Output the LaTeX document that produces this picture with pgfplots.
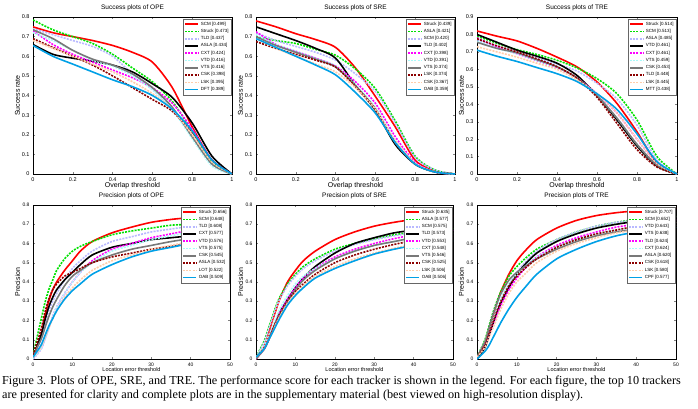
\documentclass[border=0pt]{standalone}
\usepackage{pgfplots}
\pgfplotsset{compat=1.18}
\usepackage{pgfplotstable}
\usepackage{fontspec}
\setmainfont{Liberation Sans}
\newfontfamily\capfont{Liberation Serif}

\definecolor{c1}{RGB}{255,0,0}
\definecolor{c2}{RGB}{0,225,0}
\definecolor{c3}{RGB}{185,185,255}
\definecolor{c4}{RGB}{0,0,0}
\definecolor{c5}{RGB}{255,0,255}
\definecolor{c6}{RGB}{170,250,250}
\definecolor{c7}{RGB}{120,120,120}
\definecolor{c8}{RGB}{140,0,0}
\definecolor{c9}{RGB}{255,205,170}
\definecolor{c10}{RGB}{0,160,230}

\pgfplotscreateplotcyclelist{trk}{
{c1,solid},
{c2,dash pattern=on 2pt off 1.2pt},
{c3,dash pattern=on 2pt off 1.2pt},
{c4,solid},
{c5,dash pattern=on 2pt off 1.2pt},
{c6,dash pattern=on 2pt off 1.2pt},
{c7,solid},
{c8,dash pattern=on 2pt off 1.2pt},
{c9,dash pattern=on 2pt off 1.2pt},
{c10,solid}}

\pgfplotsset{
 trkax/.style={scale only axis, ymin=0, tick align=inside, major tick length=2pt,
  cycle list name=trk,
  every axis plot/.append style={line width=1.6pt, smooth, tension=0.45},
  axis line style={line width=0.4pt},
  tick style={line width=0.3pt},
  ticklabel style={font=\fontsize{5.5}{6}\selectfont},
  /pgf/number format/assume math mode=true,
  /pgf/number format/fixed,
  every axis title/.style={at={(0.5,1)}, anchor=center, yshift=9pt, font=\fontsize{6.5}{7}\selectfont},
  every axis y label/.style={at={(axis description cs:-0.078,0.5)}, anchor=center, rotate=90, font=\fontsize{7}{8}\selectfont},
  legend style={at={(1,1)}, anchor=north east, xshift=-0.5pt, yshift=-2pt,
    font=\fontsize{4.5}{4.8}\selectfont, inner sep=0.7pt, row sep=-1.5pt,
    draw=black!60, line width=0.3pt, cells={anchor=west}},
  legend image code/.code={\draw[#1] (0pt,0pt) -- (13pt,0pt);},
 },
 succ/.style={trkax, xmin=0, xmax=1, xtick={0,0.2,...,1}, ytick={0,0.1,...,0.9},
  width=199pt, height=157pt, xlabel={Overlap threshold}, ylabel={Success rate},
  every axis x label/.style={at={(axis description cs:0.5,-0.076)}, anchor=center, font=\fontsize{7}{8}\selectfont}},
 prec/.style={trkax, xmin=0, xmax=50, xtick={0,10,...,50}, ymax=0.8, ytick={0,0.1,...,0.8},
  width=197pt, height=154pt, xlabel={Location error threshold}, ylabel={Precision},
  ticklabel style={font=\fontsize{5}{6}\selectfont},
  every axis x label/.style={at={(axis description cs:0.5,-0.068)}, anchor=center, font=\fontsize{5.5}{6}\selectfont}},
}

% OPE success: SCM Struck TLD ASLA CXT VTD VTS CSK LSK DFT
\pgfplotstableread{
x y1 y2 y3 y4 y5 y6 y7 y8 y9 y10
0   0.75  0.785 0.74 0.66  0.73 0.72 0.735 0.69  0.68 0.655
0.1 0.72  0.735 0.71 0.61  0.66 0.68 0.69  0.645 0.64 0.60
0.2 0.70  0.70  0.68 0.59  0.61 0.63 0.63  0.60  0.60 0.56
0.3 0.68  0.665 0.65 0.575 0.57 0.58 0.585 0.555 0.56 0.52
0.4 0.655 0.61  0.60 0.555 0.53 0.55 0.555 0.50  0.52 0.48
0.5 0.62  0.54  0.51 0.52  0.49 0.50 0.51  0.44  0.47 0.445
0.6 0.57  0.47  0.43 0.46  0.44 0.43 0.44  0.38  0.41 0.40
0.7 0.44  0.37  0.33 0.39  0.36 0.33 0.34  0.32  0.33 0.33
0.8 0.24  0.22  0.19 0.26  0.23 0.18 0.19  0.21  0.20 0.22
0.9 0.07  0.06  0.05 0.09  0.07 0.04 0.05  0.07  0.06 0.07
1   0     0     0    0     0    0    0     0     0    0
}\opeS

% SRE success: Struck ASLA SCM TLD CXT VTD VTS LSK CSK OAB
\pgfplotstableread{
x y1 y2 y3 y4 y5 y6 y7 y8 y9 y10
0   0.78  0.70  0.72  0.75  0.725 0.71  0.70  0.675 0.69  0.69
0.1 0.75  0.68  0.68  0.715 0.66  0.66  0.655 0.64  0.64  0.645
0.2 0.715 0.665 0.65  0.68  0.625 0.625 0.62  0.61  0.60  0.60
0.3 0.685 0.635 0.62  0.64  0.59  0.59  0.585 0.58  0.56  0.555
0.4 0.645 0.605 0.58  0.59  0.55  0.55  0.545 0.545 0.52  0.505
0.5 0.54  0.535 0.51  0.45  0.47  0.455 0.45  0.445 0.44  0.415
0.6 0.395 0.435 0.42  0.325 0.36  0.34  0.33  0.33  0.33  0.31
0.7 0.24  0.27  0.26  0.15  0.19  0.17  0.16  0.16  0.17  0.16
0.8 0.07  0.09  0.085 0.05  0.06  0.055 0.05  0.05  0.055 0.05
0.9 0.015 0.02  0.02  0.01  0.01  0.01  0.01  0.01  0.01  0.01
1   0     0     0     0     0     0     0     0     0     0
}\sreS

% TRE success: Struck SCM ASLA VTD CXT VTS CSK TLD LSK MTT
\pgfplotstableread{
x y1 y2 y3 y4 y5 y6 y7 y8 y9 y10
0   0.82  0.79  0.77 0.80  0.78 0.76  0.755 0.775 0.73 0.71
0.1 0.79  0.75  0.735 0.755 0.73 0.72 0.72  0.735 0.70 0.675
0.2 0.763 0.713 0.70 0.71  0.69 0.69  0.695 0.70  0.67 0.645
0.3 0.72  0.685 0.665 0.675 0.65 0.65 0.655 0.66  0.635 0.61
0.4 0.67  0.652 0.63 0.635 0.61 0.61  0.615 0.615 0.60 0.575
0.5 0.614 0.608 0.59 0.565 0.55 0.55  0.55  0.55  0.54 0.53
0.6 0.528 0.547 0.52 0.45  0.46 0.45  0.45  0.44  0.46 0.46
0.7 0.404 0.46  0.43 0.31  0.35 0.32  0.32  0.29  0.35 0.37
0.8 0.242 0.31  0.28 0.16  0.20 0.17  0.17  0.14  0.20 0.23
0.9 0.06  0.10  0.08 0.045 0.06 0.05  0.05  0.04  0.06 0.07
1   0     0     0    0     0    0     0     0     0    0
}\treS

% OPE precision: Struck SCM TLD CXT VTD VTS CSK ASLA LOT OAB
\pgfplotstableread{
x y1 y2 y3 y4 y5 y6 y7 y8 y9 y10
0  0.0   0.02  0.01 0.01 0.0   0.0  0.02  0.02  0.01 0.01
2  0.12  0.20  0.10 0.12 0.05  0.05 0.10  0.15  0.06 0.07
3  0.22  0.29  0.18 0.20 0.10  0.10 0.16  0.24  0.11 0.12
4  0.30  0.36  0.25 0.27 0.16  0.16 0.22  0.31  0.16 0.17
5  0.36  0.41  0.30 0.32 0.22  0.22 0.27  0.36  0.21 0.21
6  0.40  0.46  0.34 0.36 0.27  0.27 0.31  0.39  0.25 0.25
8  0.46  0.52  0.41 0.41 0.34  0.34 0.38  0.43  0.32 0.31
10 0.51  0.56  0.47 0.45 0.40  0.40 0.43  0.45  0.37 0.355
12 0.56  0.585 0.51 0.49 0.45  0.45 0.46  0.47  0.41 0.39
15 0.61  0.61  0.56 0.54 0.51  0.50 0.50  0.50  0.46 0.44
20 0.655 0.645 0.61 0.58 0.57  0.56 0.54  0.53  0.51 0.49
25 0.685 0.665 0.635 0.60 0.60 0.59 0.57  0.55  0.54 0.53
30 0.71  0.68  0.66 0.62 0.63  0.62 0.59  0.57  0.57 0.56
35 0.725 0.695 0.675 0.63 0.65 0.64 0.61  0.585 0.59 0.58
40 0.735 0.70  0.69 0.64 0.67  0.66 0.625 0.60  0.61 0.60
45 0.745 0.71  0.70 0.65 0.685 0.67 0.635 0.61  0.62 0.61
50 0.75  0.72  0.71 0.655 0.695 0.68 0.64 0.615 0.63 0.62
}\opeP

% SRE precision: Struck ASLA SCM TLD VTD CXT VTS CSK LSK OAB
\pgfplotstableread{
x y1 y2 y3 y4 y5 y6 y7 y8 y9 y10
0  0.0   0.01  0.01  0.01  0.0   0.01  0.0   0.01  0.01  0.01
2  0.06  0.09  0.08  0.05  0.05  0.06  0.05  0.05  0.05  0.05
3  0.12  0.15  0.14  0.09  0.09  0.11  0.09  0.09  0.09  0.09
4  0.19  0.21  0.20  0.14  0.14  0.16  0.14  0.14  0.13  0.13
5  0.25  0.27  0.26  0.19  0.19  0.21  0.19  0.19  0.18  0.17
6  0.31  0.32  0.31  0.24  0.24  0.26  0.23  0.23  0.22  0.21
8  0.40  0.39  0.38  0.31  0.31  0.33  0.30  0.30  0.29  0.28
10 0.46  0.44  0.43  0.37  0.37  0.39  0.36  0.35  0.34  0.33
12 0.51  0.48  0.47  0.42  0.42  0.43  0.41  0.39  0.38  0.37
15 0.56  0.52  0.51  0.48  0.47  0.47  0.46  0.44  0.43  0.42
20 0.62  0.57  0.56  0.55  0.53  0.52  0.52  0.50  0.48  0.47
25 0.66  0.60  0.595 0.60  0.57  0.56  0.56  0.54  0.52  0.51
30 0.69  0.625 0.62  0.63  0.60  0.59  0.59  0.57  0.55  0.545
35 0.71  0.645 0.64  0.655 0.625 0.61 0.61  0.595 0.575 0.57
40 0.725 0.66  0.655 0.67  0.645 0.63 0.63  0.615 0.595 0.59
45 0.735 0.67  0.665 0.685 0.66  0.645 0.645 0.63 0.61  0.605
50 0.745 0.68  0.675 0.695 0.67  0.655 0.655 0.64 0.62  0.615
}\sreP

% TRE precision: Struck SCM VTD VTS TLD CXT ASLA CSK LSK CPF
\pgfplotstableread{
x y1 y2 y3 y4 y5 y6 y7 y8 y9 y10
0  0.0   0.01  0.0  0.0   0.01  0.01  0.01  0.01 0.01  0.0
2  0.08  0.10  0.06 0.06  0.07  0.09  0.09  0.07 0.06  0.04
3  0.15  0.17  0.12 0.12  0.12  0.15  0.16  0.13 0.11  0.07
4  0.22  0.24  0.18 0.18  0.18  0.21  0.23  0.19 0.16  0.11
5  0.29  0.30  0.24 0.24  0.23  0.27  0.29  0.25 0.21  0.15
6  0.35  0.35  0.29 0.29  0.28  0.32  0.34  0.30 0.26  0.19
8  0.44  0.43  0.38 0.37  0.36  0.39  0.41  0.38 0.34  0.26
10 0.51  0.48  0.45 0.44  0.42  0.44  0.45  0.43 0.40  0.32
12 0.56  0.52  0.50 0.49  0.47  0.48  0.48  0.47 0.44  0.37
15 0.62  0.57  0.56 0.55  0.53  0.53  0.52  0.52 0.50  0.44
20 0.68  0.62  0.62 0.61  0.59  0.58  0.57  0.58 0.56  0.52
25 0.72  0.66  0.66 0.65  0.63  0.62  0.61  0.62 0.60  0.57
30 0.745 0.69  0.69 0.68  0.66  0.65  0.64  0.65 0.63  0.61
35 0.76  0.71  0.71 0.70  0.685 0.67  0.66  0.67 0.655 0.64
40 0.77  0.725 0.72 0.715 0.70  0.685 0.675 0.69 0.67  0.66
45 0.78  0.735 0.73 0.725 0.715 0.70  0.685 0.70 0.685 0.675
50 0.785 0.745 0.74 0.735 0.725 0.71  0.695 0.71 0.695 0.685
}\treP

\begin{document}
\begin{tikzpicture}[x=1pt,y=1pt]
\useasboundingbox (0,0) rectangle (698,408);

% ---------- top row ----------
\begin{axis}[succ, at={(33pt,234pt)}, anchor=south west, ymax=0.8, ytick={0,0.1,...,0.8},
  title={Success plots of OPE},
  legend entries={SCM [0.499],Struck [0.473],TLD [0.437],ASLA [0.434],CXT [0.424],VTD [0.416],VTS [0.416],CSK [0.398],LSK [0.395],DFT [0.389]}]
\pgfplotsinvokeforeach{1,...,10}{\addplot table[x=x,y=y#1]{\opeS};}
\end{axis}

\begin{axis}[succ, at={(256pt,234pt)}, anchor=south west, ymax=0.8, ytick={0,0.1,...,0.8},
  title={Success plots of SRE},
  legend entries={Struck [0.439],ASLA [0.421],SCM [0.420],TLD [0.402],CXT [0.398],VTD [0.391],VTS [0.374],LSK [0.374],CSK [0.367],OAB [0.359]}]
\pgfplotsinvokeforeach{1,...,10}{\addplot table[x=x,y=y#1]{\sreS};}
\end{axis}

\begin{axis}[succ, at={(477pt,234pt)}, anchor=south west, width=200pt, ymax=0.9, ytick={0,0.1,...,0.9},
  title={Success plots of TRE},
  legend entries={Struck [0.514],SCM [0.513],ASLA [0.485],VTD [0.461],CXT [0.461],VTS [0.459],CSK [0.453],TLD [0.448],LSK [0.445],MTT [0.438]}]
\pgfplotsinvokeforeach{1,...,10}{\addplot table[x=x,y=y#1]{\treS};}
\end{axis}

% ---------- bottom row ----------
\begin{axis}[prec, at={(33pt,49pt)}, anchor=south west,
  title={Precision plots of OPE},
  legend entries={Struck [0.656],SCM [0.648],TLD [0.608],CXT [0.577],VTD [0.576],VTS [0.575],CSK [0.545],ASLA [0.532],LOT [0.522],OAB [0.509]}]
\pgfplotsinvokeforeach{1,...,10}{\addplot table[x=x,y=y#1]{\opeP};}
\end{axis}

\begin{axis}[prec, at={(256pt,49pt)}, anchor=south west,
  title={Precision plots of SRE},
  legend entries={Struck [0.635],ASLA [0.577],SCM [0.575],TLD [0.573],VTD [0.553],CXT [0.548],VTS [0.546],CSK [0.525],LSK [0.506],OAB [0.506]}]
\pgfplotsinvokeforeach{1,...,10}{\addplot table[x=x,y=y#1]{\sreP};}
\end{axis}

\begin{axis}[prec, at={(477pt,49pt)}, anchor=south west, width=199pt,
  title={Precision plots of TRE},
  legend entries={Struck [0.707],SCM [0.652],VTD [0.643],VTS [0.638],TLD [0.624],CXT [0.624],ASLA [0.620],CSK [0.618],LSK [0.580],CPF [0.577]}]
\pgfplotsinvokeforeach{1,...,10}{\addplot table[x=x,y=y#1]{\treP};}
\end{axis}

% ---------- caption ----------
\node[anchor=base west, inner sep=0pt, font=\capfont\fontsize{12.2}{14}\selectfont] at (2,23.5)
 {Figure 3. Plots of OPE, SRE, and TRE. The performance score for each tracker is shown in the legend. For each figure, the top 10 trackers};
\node[anchor=base west, inner sep=0pt, font=\capfont\fontsize{12.2}{14}\selectfont] at (2,9.5)
 {are presented for clarity and complete plots are in the supplementary material (best viewed on high-resolution display).};
\end{tikzpicture}
\end{document}
